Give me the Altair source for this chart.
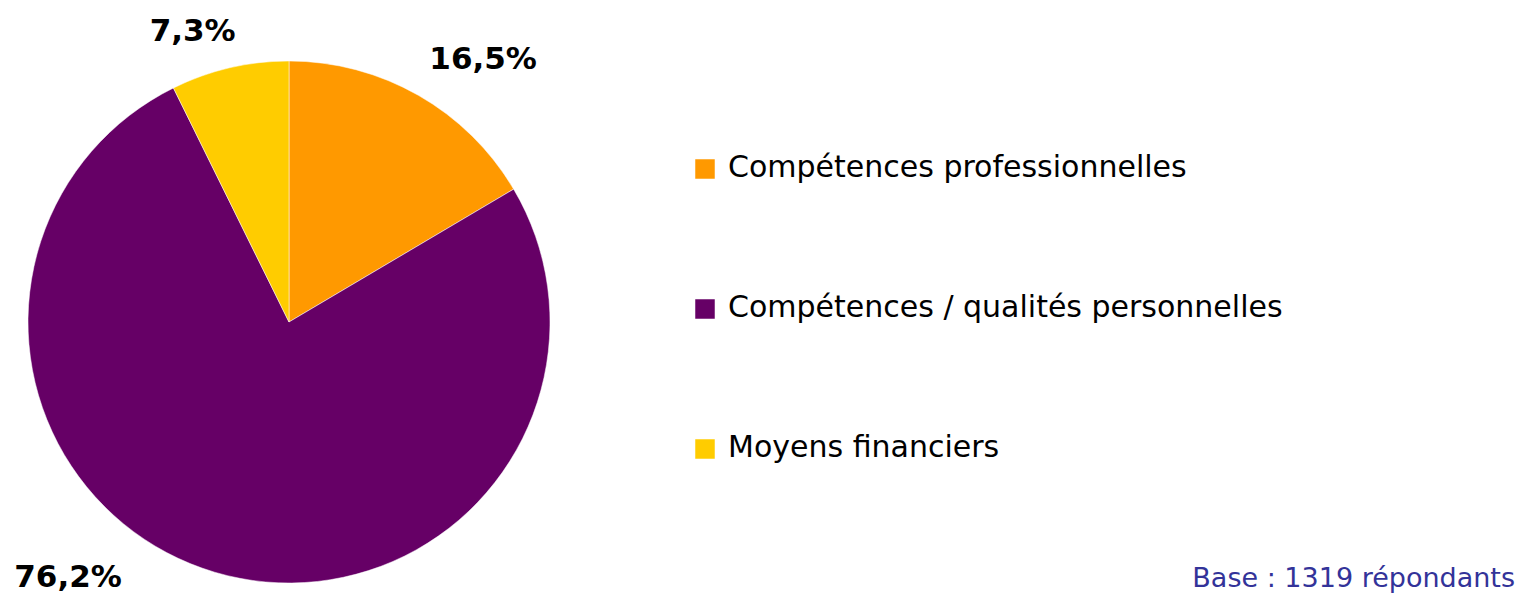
import altair as alt
import pandas as pd

categories = ["Compétences professionnelles", "Compétences / qualités personnelles", "Moyens financiers"]
values = [16.5, 76.2, 7.3]
labels = ["16,5%", "76,2%", "7,3%"]
colors = ["#FF9900", "#660066", "#FFCC00"]
base_note = "Base : 1319 répondants"

df = pd.DataFrame({"cat": categories, "value": values, "label": labels, "idx": list(range(len(categories)))})

W, H = 1508, 589
CX, CY = 281, 314
R = 261
FONT = "DejaVu Sans"

theta_scale = alt.Scale(domain=[0, 100], range=[0, 6.283185307179586])
color_scale = alt.Scale(domain=categories, range=colors)
legend_y = alt.Y("cat:N", scale=alt.Scale(type="point", domain=categories, range=[161, 441], padding=0), axis=None)

base = alt.Chart(df)

arcs = base.mark_arc(radius=R, stroke="white", strokeWidth=0.5).encode(
    theta=alt.Theta("value:Q", stack=True, scale=theta_scale),
    color=alt.Color("cat:N", scale=color_scale, legend=None),
    order=alt.Order("idx:Q"),
    x=alt.value(CX),
    y=alt.value(CY),
)

offsets = {
    "Compétences professionnelles": (43, 3),
    "Compétences / qualités personnelles": (-134, -36),
    "Moyens financiers": (-27, 7),
}

text_layers = []
for cat in categories:
    dx, dy = offsets[cat]
    t = (
        base.transform_window(cum="sum(value)", sort=[alt.SortField("idx")])
        .transform_calculate(mid="datum.cum - datum.value / 2")
        .transform_filter(alt.datum.cat == cat)
        .mark_text(radius=305, font=FONT, fontSize=31, fontWeight="bold", color="black",
                   align="center", baseline="middle", dx=dx, dy=dy)
        .encode(
            theta=alt.Theta("mid:Q", stack=None, scale=theta_scale),
            text="label:N",
            x=alt.value(CX),
            y=alt.value(CY),
        )
    )
    text_layers.append(t)

legend_squares = base.mark_square(size=380, opacity=1, strokeWidth=0).encode(
    x=alt.value(697),
    y=legend_y,
    color=alt.Color("cat:N", scale=color_scale, legend=None),
)

legend_text = base.mark_text(
    font=FONT, fontSize=30, color="black", align="left", baseline="alphabetic", dy=8
).encode(
    x=alt.value(720),
    y=legend_y,
    text="cat:N",
)

note = alt.Chart(pd.DataFrame({"t": [base_note]})).mark_text(
    font=FONT, fontSize=27, color="#333399", align="right", baseline="alphabetic"
).encode(text="t:N", x=alt.value(1507), y=alt.value(579))

chart = alt.layer(arcs, *text_layers, legend_squares, legend_text, note).properties(
    width=W, height=H, autosize=alt.AutoSizeParams(type="none"), padding=0
).configure_view(stroke=None)

chart.save("out.html", embed_options={"renderer": "svg", "actions": False})
